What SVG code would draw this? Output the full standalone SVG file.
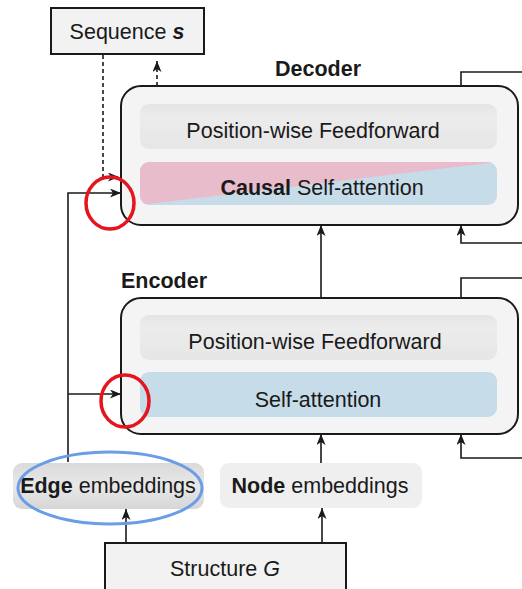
<svg xmlns="http://www.w3.org/2000/svg" width="522" height="589" viewBox="0 0 522 589">
  <style>
    .t { font-family: "Liberation Sans", Arial, sans-serif; font-size: 21.5px; fill: #1a1a1a; }
    .b { font-weight: bold; }
    .block { fill: #f4f4f4; stroke: #1a1a1a; stroke-width: 2; }
    .box { fill: #f2f2f2; stroke: #1a1a1a; stroke-width: 2; }
    .ff { fill: url(#ffGrad); }
    .line { fill: none; stroke: #1a1a1a; stroke-width: 1.6; }
    .dash { stroke-dasharray: 4 3; }
    .mark-red { fill: none; stroke: #e5151d; stroke-width: 3.5; }
    .mark-blue { fill: none; stroke: #6b9de6; stroke-width: 3; }
  </style>
  <defs>
    <marker id="arrow" viewBox="0 0 11 9" refX="11" refY="4.5" markerWidth="11" markerHeight="9" markerUnits="userSpaceOnUse" orient="auto">
      <path d="M0,0 L11,4.5 L0,9 L3,4.5 z" fill="#1a1a1a"/>
    </marker>
    <linearGradient id="ffGrad" x1="0" y1="0" x2="0" y2="1">
      <stop offset="0" stop-color="#e4e4e4"/>
      <stop offset="0.3" stop-color="#ececec"/>
      <stop offset="1" stop-color="#e6e6e6"/>
    </linearGradient>
    <linearGradient id="edgeGrad" x1="0" y1="0" x2="0" y2="1">
      <stop offset="0" stop-color="#dadada"/>
      <stop offset="0.5" stop-color="#e8e8e8"/>
      <stop offset="1" stop-color="#d6d6d6"/>
    </linearGradient>
    <clipPath id="causalClip">
      <rect x="140" y="162" width="357" height="43" rx="9"/>
    </clipPath>
  </defs>

  <!-- connectors -->
  <g id="connectors">
    <!-- sequence feedback (dashed) -->
    <path class="line dash" d="M103,55 V177 H119" marker-end="url(#arrow)"/>
    <path class="line dash" d="M157,86 V61" marker-end="url(#arrow)"/>
    <!-- edge embeddings to both stacks -->
    <path class="line" d="M68,462 V193 H121" marker-end="url(#arrow)"/>
    <path class="line" d="M68,394 H121" marker-end="url(#arrow)"/>
    <!-- main data path -->
    <path class="line" d="M321,298 V225" marker-end="url(#arrow)"/>
    <path class="line" d="M321,463 V434" marker-end="url(#arrow)"/>
    <path class="line" d="M322,543 V508" marker-end="url(#arrow)"/>
    <path class="line" d="M126,543 V509" marker-end="url(#arrow)"/>
    <!-- residual loops on the right -->
    <path class="line" d="M461,86 V72 H522"/>
    <path class="line" d="M522,243 H461 V225" marker-end="url(#arrow)"/>
    <path class="line" d="M461,298 V278 H522"/>
    <path class="line" d="M522,458 H461 V434" marker-end="url(#arrow)"/>
  </g>

  <g id="sequence">
    <rect class="box" x="51" y="8" width="153" height="46"/>
    <text class="t" x="127" y="39" text-anchor="middle">Sequence <tspan class="b" font-style="italic">s</tspan></text>
  </g>

  <g id="decoder">
    <text class="t b" x="318" y="76" text-anchor="middle">Decoder</text>
    <rect class="block" x="121" y="86" width="397" height="139" rx="20"/>
    <rect class="ff" x="140" y="104" width="357" height="45" rx="9"/>
    <g clip-path="url(#causalClip)">
      <rect x="140" y="162" width="357" height="43" fill="#c6dce8"/>
      <polygon points="140,162 497,162 140,205" fill="#e8bccb"/>
    </g>
    <text class="t" x="313" y="138" text-anchor="middle">Position-wise Feedforward</text>
    <text class="t" x="322" y="195" text-anchor="middle"><tspan class="b">Causal</tspan> Self-attention</text>
  </g>

  <g id="encoder">
    <text class="t b" x="121" y="288">Encoder</text>
    <rect class="block" x="121" y="298" width="397" height="136" rx="20"/>
    <rect class="ff" x="140" y="315" width="357" height="45" rx="9"/>
    <rect x="140" y="372" width="357" height="45" rx="9" fill="#c6dce8"/>
    <text class="t" x="315" y="349" text-anchor="middle">Position-wise Feedforward</text>
    <text class="t" x="318" y="407" text-anchor="middle">Self-attention</text>
  </g>

  <g id="edge-embeddings">
    <rect x="13" y="463" width="191" height="46" rx="9" fill="url(#edgeGrad)"/>
    <text class="t" x="108" y="493" text-anchor="middle"><tspan class="b">Edge</tspan> embeddings</text>
  </g>

  <g id="node-embeddings">
    <rect x="220" y="463" width="202" height="45" rx="9" fill="#efefef"/>
    <text class="t" x="320" y="493" text-anchor="middle"><tspan class="b">Node</tspan> embeddings</text>
  </g>

  <g id="structure">
    <rect class="box" x="105" y="543" width="241" height="50"/>
    <text class="t" x="225" y="576" text-anchor="middle">Structure <tspan font-style="italic">G</tspan></text>
  </g>

  <!-- highlight marks -->
  <g id="highlights">
    <ellipse class="mark-red" cx="110" cy="203" rx="24" ry="26"/>
    <ellipse class="mark-red" cx="125" cy="401" rx="24" ry="26"/>
    <ellipse class="mark-blue" cx="110" cy="488" rx="92" ry="36"/>
  </g>
</svg>
